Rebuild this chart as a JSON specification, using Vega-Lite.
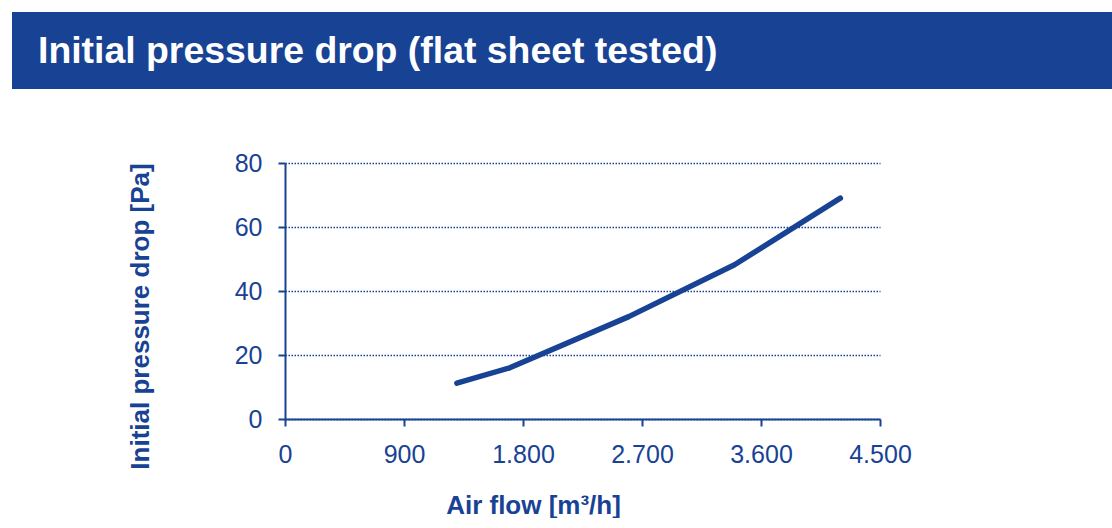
{
  "$schema": "https://vega.github.io/schema/vega-lite/v6.json",
  "padding": {"left": 12, "top": 12, "right": 0, "bottom": 0},
  "background": "white",
  "columns": 2,
  "align": "each",
  "bounds": "flush",
  "spacing": {"row": 74, "column": 0},
  "config": {
    "font": "Liberation Sans",
    "view": {"stroke": null},
    "locale": {"number": {"decimal": ",", "thousands": ".", "grouping": [3], "currency": ["", " €"]}}
  },
  "concat": [
    {
      "width": 273,
      "height": 77,
      "view": {"fill": "#184294", "stroke": null},
      "data": {"values": []},
      "mark": {"type": "point", "opacity": 0},
      "encoding": {}
    },
    {
      "width": 827,
      "height": 77,
      "view": {"fill": "#184294", "stroke": null},
      "data": {"values": [{"label": "Initial pressure drop (flat sheet tested)"}]},
      "mark": {"type": "text", "align": "left", "baseline": "alphabetic", "fontSize": 37.4, "fontWeight": "bold", "color": "white", "font": "Liberation Sans", "clip": false},
      "encoding": {
        "text": {"field": "label"},
        "x": {"value": -247},
        "y": {"value": 51}
      }
    },
    {
      "width": 273,
      "height": 256,
      "data": {"values": []},
      "mark": {"type": "point", "opacity": 0},
      "encoding": {}
    },
    {
      "width": 595,
      "height": 256,
      "data": {"values": [
        {"flow": 1300, "dp": 11.2},
        {"flow": 1700, "dp": 16},
        {"flow": 2600, "dp": 32},
        {"flow": 3400, "dp": 48.2},
        {"flow": 4200, "dp": 69}
      ]},
      "mark": {"type": "line", "color": "#184294", "strokeWidth": 5.5, "strokeCap": "round", "strokeJoin": "round"},
      "encoding": {
        "x": {
          "field": "flow", "type": "quantitative",
          "scale": {"domain": [0, 4500], "nice": false, "zero": true},
          "axis": {
            "values": [0, 900, 1800, 2700, 3600, 4500],
            "format": ",.0f",
            "grid": false,
            "domainColor": "#184294", "domainWidth": 2,
            "tickColor": "#184294", "tickWidth": 2, "tickSize": 7,
            "labelColor": "#184294", "labelFontSize": 25, "labelPadding": 16, "labelFont": "Liberation Sans",
            "labelFlush": false, "labelOverlap": false,
            "title": "Air flow [m³/h]",
            "titleColor": "#184294", "titleFontSize": 26, "titleFontWeight": "bold", "titleFont": "Liberation Sans",
            "titleX": 248, "titleY": 94, "titleBaseline": "alphabetic", "titleAlign": "center"
          }
        },
        "y": {
          "field": "dp", "type": "quantitative",
          "scale": {"domain": [0, 80], "nice": false},
          "axis": {
            "values": [0, 20, 40, 60, 80],
            "grid": true, "gridColor": "#184294", "gridDash": [1.5, 1.5], "gridWidth": 1.5,
            "domainColor": "#184294", "domainWidth": 2,
            "tickColor": "#184294", "tickWidth": 2, "tickSize": 7,
            "labelColor": "#184294", "labelFontSize": 25, "labelPadding": 16, "labelFont": "Liberation Sans",
            "labelFlush": false, "labelOverlap": false,
            "title": "Initial pressure drop [Pa]",
            "titleColor": "#184294", "titleFontSize": 26, "titleFontWeight": "bold", "titleFont": "Liberation Sans",
            "titleX": -132, "titleY": 153, "titleBaseline": "bottom", "titleAngle": -90, "titleAlign": "center"
          }
        }
      }
    }
  ]
}
